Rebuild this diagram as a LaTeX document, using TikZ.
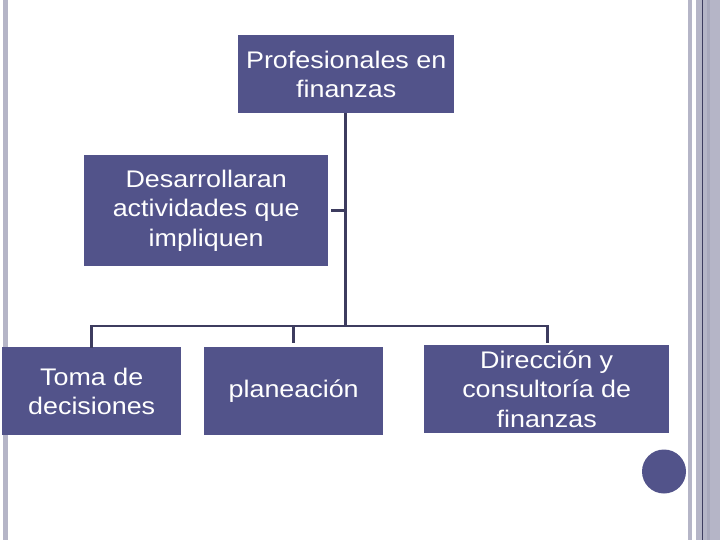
\documentclass[tikz,border=0pt]{standalone}
\usepackage{fontspec}
\setmainfont[FakeStretch=1.12]{Liberation Sans}
\usepackage{xcolor}
\usepackage{tikz}
\usetikzlibrary{calc,backgrounds}

\definecolor{boxblue}{HTML}{52538A}
\definecolor{lineblue}{HTML}{3D3C5F}
\definecolor{bargrey}{HTML}{B5B5C7}
\definecolor{bardark}{HTML}{A8A8BC}

\begin{document}
\begin{tikzpicture}[x=1pt,y=-1pt]
        % Define the styles for the boxes and the connectors
        \tikzstyle{orgbox}=[fill=boxblue, text=white, inner sep=0pt, align=center,
            font=\fontsize{24}{29.5}\selectfont, anchor=north west];
        \tikzstyle{orgline}=[draw=lineblue, line width=2.6pt];

        % Page size
        \useasboundingbox (0,0) rectangle (720,540);

        % Grey bars at the sides of the slide
        \fill[bargrey] (3,0) rectangle (8,540);
        \fill[bargrey] (688,0) rectangle (692,540);
        \fill[bargrey] (696,0) rectangle (720,540);
        \fill[bardark] (707,0) rectangle (710,540);
        \fill[lineblue] (701.5,0) rectangle (703,540);

        % Boxes
        \node[orgbox, minimum width=216pt, minimum height=78pt] (prof) at (238,35)
            {Profesionales en\\finanzas};
        \node[orgbox, minimum width=244pt, minimum height=111pt] (desa) at (84,155)
            {Desarrollaran\\actividades que\\impliquen};
        \node[orgbox, minimum width=179pt, minimum height=88pt] (toma) at (2,347)
            {Toma de\\decisiones};
        \node[orgbox, minimum width=179pt, minimum height=88pt] (plan) at (204,347)
            {planeaci\'on};
        \node[orgbox, minimum width=245pt, minimum height=88pt] (dire) at (424,345)
            {Direcci\'on y\\consultor\'ia de\\finanzas};

        % Connectors
        \coordinate (trunk) at (346.5,326);
        \draw[orgline] (prof.south) ++(-0.5,0) |- (trunk);
        \draw[orgline] ($(desa.east)+(3,0)$) -- ($(desa.east)+(18.5,0)$);
        \draw[orgline, line cap=rect] (trunk) -| ($(toma.north)+(-0.5,0)$);
        \draw[orgline] (trunk) -| ($(plan.north)+(-0.5,-4)$);
        \draw[orgline] (trunk) -| ($(dire.north)+(0.5,-2)$);

        % Dot at the bottom right
        \fill[boxblue] (664,471.5) circle (22);

    \end{tikzpicture}
\end{document}
